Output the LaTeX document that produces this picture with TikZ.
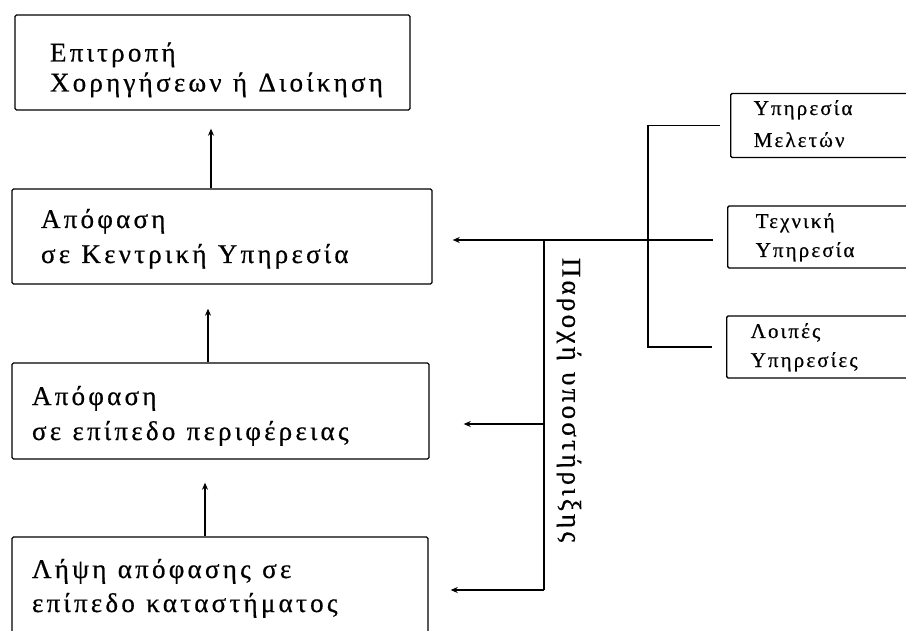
\documentclass[tikz,border=0pt]{standalone}
\usepackage{fontspec}
\setmainfont{Liberation Serif}
\newfontfamily\boxfont[LetterSpace=12,FakeBold=0.6]{Liberation Serif}
\newfontfamily\smallfont[LetterSpace=10,FakeBold=0.6]{Liberation Serif}
\usetikzlibrary{arrows.meta}
\makeatletter
% #1 left offset, #2 vertical shift, #3 line distance, #4 first line, #5 second line
\newcommand\twoline[5]{\hspace*{#1}\raisebox{#2}[\height][\depth]{\fontsize{\f@size}{#3}\selectfont\spaceskip=0.42em\relax\begin{tabular}{@{}l@{}}#4\\#5\end{tabular}}}
\makeatother
\begin{document}
\begin{tikzpicture}[x=1pt,y=-1pt,
  lbox/.style={draw, line width=1.4pt, rounded corners=1.5pt, align=left,
    inner xsep=0pt, inner ysep=0pt, font=\boxfont\fontsize{27}{30}\selectfont},
  sbox/.style={draw, line width=1.4pt, rounded corners=1.5pt, align=left,
    anchor=west, inner xsep=0pt, inner ysep=0pt, font=\smallfont\fontsize{21}{30}\selectfont},
  conn/.style={line width=1.4pt},
  arr/.style={conn, -{Stealth[length=7pt,width=6pt]}}]
\useasboundingbox (0,0) rectangle (906,631);
\fill[white] (0,0) rectangle (906,631);
\begin{scope}
\clip (0,0) rectangle (906,631);
% left column of boxes
\node[lbox, minimum width=395pt, minimum height=95pt, text width=395pt] (b1) at (212.5,62.5)
  {\twoline{35pt}{-8pt}{30pt}{Επιτροπή}{Χορηγήσεων ή Διοίκηση}};
\node[lbox, minimum width=420pt, minimum height=95pt, text width=420pt] (b2) at (222,236.5)
  {\twoline{29pt}{-2pt}{35pt}{Απόφαση}{σε Κεντρική Υπηρεσία}};
\node[lbox, minimum width=417pt, minimum height=96pt, text width=417pt] (b3) at (220.5,411)
  {\twoline{20pt}{-4.5pt}{35pt}{Απόφαση}{σε επίπεδο περιφέρειας}};
\node[lbox, minimum width=416pt, minimum height=97pt, text width=416pt] (b4) at (220,585.5)
  {\twoline{20pt}{-2.7pt}{34pt}{Λήψη απόφασης σε}{επίπεδο καταστήματος}};
% right column of boxes
\node[sbox, minimum width=200pt, minimum height=63pt, text width=200pt] (ma) at (730,125.5)
  {\twoline{23pt}{0.9pt}{32pt}{Υπηρεσία}{Μελετών}};
\node[sbox, minimum width=200pt, minimum height=62pt, text width=200pt] (tb) at (727,237)
  {\twoline{28pt}{0.3pt}{29pt}{Τεχνική}{Υπηρεσία}};
\node[sbox, minimum width=200pt, minimum height=62pt, text width=200pt] (lo) at (726,347)
  {\twoline{24pt}{0.3pt}{29pt}{Λοιπές}{Υπηρεσίες}};
% upward arrows
\coordinate (c1) at (211,0);
\coordinate (c2) at (208,0);
\coordinate (c3) at (205,0);
\draw[arr, shorten >=18pt] (b2.north -| c1) -- (b1.south -| c1);
\draw[arr, shorten >=24pt] (b3.north -| c2) -- (b2.south -| c2);
\draw[arr, shorten >=23pt] (b4.north -| c3) -- (b3.south -| c3);
% services bracket
\coordinate (br) at (648,240);
\draw[conn, shorten <=10pt, shorten >=14pt] (ma.west) -| (br) |- (lo.west);
% main support line
\draw[arr, shorten <=14pt, shorten >=20pt] (tb.west |- br) -- (b2.east |- br);
\coordinate (sup) at (544,240);
\coordinate (y3) at (0,424);
\coordinate (y4) at (0,590);
\draw[conn] (sup) -- (sup |- y4);
\draw[arr, shorten >=34pt] (sup |- y3) -- (b3.east |- y3);
\draw[arr, shorten >=22pt] (sup |- y4) -- (b4.east |- y4);
\node[rotate=-90, font=\boxfont\fontsize{27}{30}\selectfont, inner sep=0pt] (ps) at (569,400) {\spaceskip=0.42em\relax Παροχή υποστήριξης};
\end{scope}
\end{tikzpicture}
\end{document}
